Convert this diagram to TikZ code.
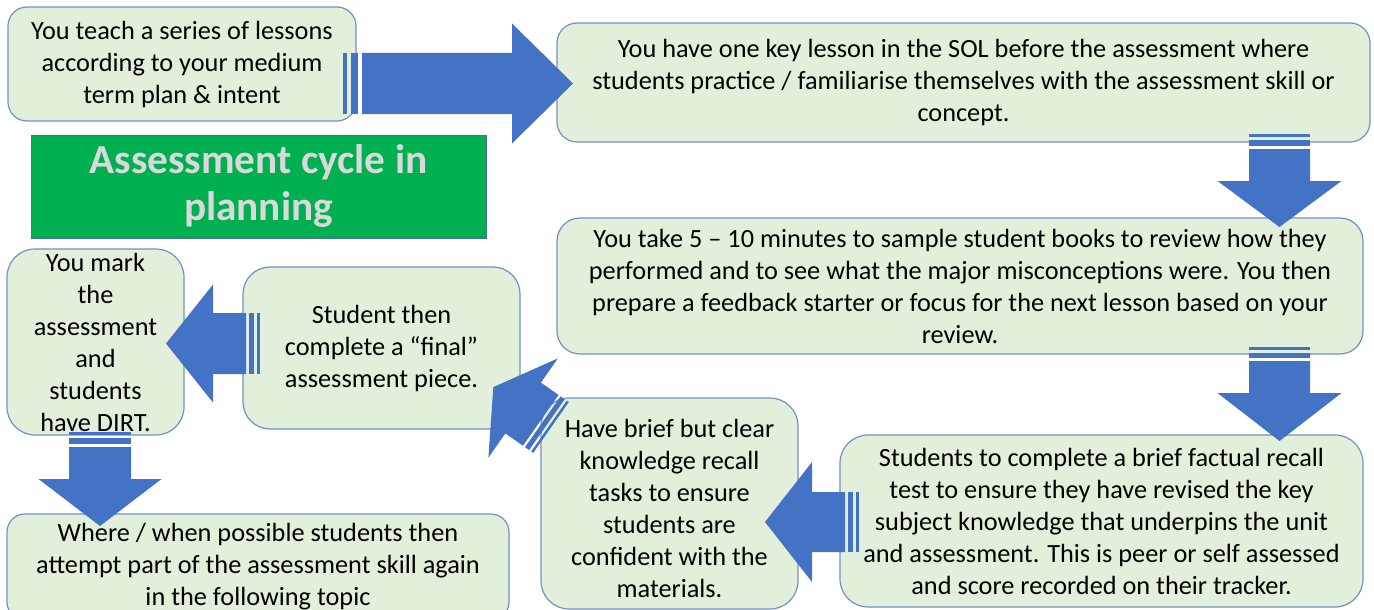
\documentclass[tikz,border=0pt]{standalone}
\usepackage{fontspec}
\setmainfont{Carlito}
\definecolor{boxfill}{HTML}{E2EFDA}
\definecolor{boxline}{HTML}{7390C0}
\definecolor{arrowblue}{HTML}{4472C4}
\definecolor{titlegreen}{HTML}{00B050}
\definecolor{titleline}{HTML}{41719C}
\definecolor{titletext}{HTML}{D9D9D9}
\newcommand\boxfont{\fontsize{26.3}{32}\selectfont}
\newcommand\titlefont{\fontsize{41.3}{47}\selectfont\bfseries}
% striped block arrow: x0, y0, angle, length, head base, shaft half, head half, stripe unit
\newcommand\blockarrow[8]{%
  \begin{scope}[shift={(#1,#2)},rotate=#3]
    \fill[arrowblue] (5*#8,-#6) -- (#5,-#6) -- (#5,-#7) -- (#4,0) -- (#5,#7) -- (#5,#6) -- (5*#8,#6) -- cycle;
    \fill[arrowblue] (0,-#6) rectangle (#8,#6);
    \fill[arrowblue] (2*#8,-#6) rectangle (4*#8,#6);
  \end{scope}}
\tikzset{
  cbox/.style={draw=boxline, line width=1.2pt, fill=boxfill, rounded corners=#1,
    inner sep=0pt, align=center, font=\boxfont, text=black},
  cbox/.default=20pt,
  titlebox/.style={draw=titleline, line width=0.8pt, fill=titlegreen, inner sep=0pt,
    align=center, font=\titlefont, text=titletext}
}
\begin{document}
\begin{tikzpicture}[x=1pt,y=-1pt]
\useasboundingbox (0,0) rectangle (1374,610);
\clip (0,0) rectangle (1374,610);

\node[cbox=19pt, minimum width=348pt, minimum height=114pt] (b1) at (182,64)
  {You teach a series of lessons\\according to your medium\\term plan \& intent};
\node[cbox=20pt, minimum width=813pt, minimum height=119pt] (b2) at (963.5,82.5)
  {You have one key lesson in the SOL before the assessment where\\students practice / familiarise themselves with the assessment skill or\\concept.};
\node[titlebox, minimum width=455pt, minimum height=103pt] (title) at (258.5,186.5)
  {Assessment cycle in\\planning};
\node[cbox=23pt, minimum width=806pt, minimum height=136pt] (b3) at (960,286)
  {You take 5 – 10 minutes to sample student books to review how they\\performed and to see what the major misconceptions were. You then\\prepare a feedback starter or focus for the next lesson based on your\\review.};
\node[cbox=28pt, minimum width=523pt, minimum height=172pt] (b4) at (1101.5,521)
  {Students to complete a brief factual recall\\test to ensure they have revised the key\\subject knowledge that underpins the unit\\and assessment. This is peer or self assessed\\and score recorded on their tracker.};
\node[cbox=28pt, minimum width=257pt, minimum height=211pt] (b5) at (669.5,503.5) {};
\node[align=center, font=\boxfont, inner sep=0pt] (t5) at (669.5,508.5)
  {Have brief but clear\\knowledge recall\\tasks to ensure\\students are\\confident with the\\materials.};
\node[cbox=27pt, minimum width=277pt, minimum height=162pt] (b6) at (381.5,348)
  {Student then\\complete a “final”\\assessment piece.};
\node[cbox=28pt, minimum width=177pt, minimum height=186pt] (b7) at (95.5,342)
  {You mark\\the\\assessment\\and\\students\\have DIRT.};
\node[cbox=18pt, minimum width=502pt, minimum height=106pt] (b8) at (258,567)
  {Where / when possible students then\\attempt part of the assessment skill again\\in the following topic};

% block arrows
\blockarrow{343}{83.5}{0}{230}{169}{30.5}{60}{3.8}
\blockarrow{1279.5}{134}{-90}{93}{47}{30.5}{62}{3}
\blockarrow{1279.5}{347}{-90}{94}{46}{30.5}{62}{2.8}
\blockarrow{859}{522}{180}{94}{47}{30}{60}{2.8}
\blockarrow{551}{427.5}{145}{70.4}{34}{31}{60.6}{2.5}
\blockarrow{260}{343.5}{180}{94}{47}{30.5}{59}{2.8}
\blockarrow{100}{432}{-90}{94}{47}{31}{61.5}{3}
\end{tikzpicture}
\end{document}
